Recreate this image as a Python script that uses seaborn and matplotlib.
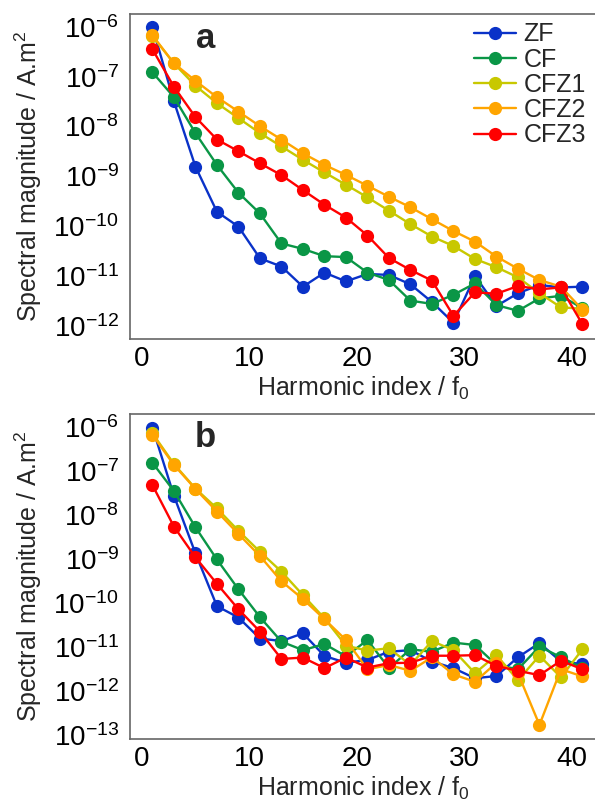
import numpy as np
import pandas as pd
import matplotlib
matplotlib.use("Agg")
import matplotlib.pyplot as plt
from matplotlib.lines import Line2D
from matplotlib.ticker import FixedLocator, MultipleLocator, LogFormatterSciNotation, NullFormatter
import seaborn as sns

harmonics = [1, 3, 5, 7, 9, 11, 13, 15, 17, 19, 21, 23, 25, 27, 29, 31, 33, 35, 37, 39, 41]
series_names = ["ZF", "CF", "CFZ1", "CFZ2", "CFZ3"]
colors = ["#0a32c8", "#0a9646", "#c8c800", "#ffa500", "#ff0000"]

# Panel a
a_ZF = [1.0e-6, 3.2e-8, 1.57e-9, 1.95e-10, 9.8e-11, 2.26e-11, 1.55e-11, 6.1e-12, 1.17e-11, 7.8e-12,
        1.1e-11, 1.05e-11, 6.8e-12, 3.0e-12, 1.15e-12, 1.0e-11, 2.5e-12, 4.5e-12, 6.6e-12, 5.9e-12, 6.1e-12]
a_CF = [1.23e-7, 3.9e-8, 7.4e-9, 1.7e-9, 4.7e-10, 1.8e-10, 4.5e-11, 3.5e-11, 2.5e-11, 2.4e-11,
        1.17e-11, 8.3e-12, 3.2e-12, 2.75e-12, 4.2e-12, 7.1e-12, 2.6e-12, 2.0e-12, 3.55e-12, 4.0e-12, 2.25e-12]
a_CFZ1 = [6.6e-7, 1.86e-7, 6.6e-8, 2.95e-8, 1.48e-8, 7.4e-9, 4.0e-9, 2.15e-9, 1.2e-9, 6.8e-10,
          3.8e-10, 2.05e-10, 1.1e-10, 6.2e-11, 4.0e-11, 2.2e-11, 1.5e-11, 9.4e-12, 4.5e-12, 2.35e-12, 2.2e-12]
a_CFZ2 = [6.8e-7, 1.86e-7, 8.3e-8, 3.9e-8, 2.0e-8, 1.02e-8, 5.5e-9, 2.9e-9, 1.7e-9, 1.07e-9,
          6.5e-10, 3.9e-10, 2.4e-10, 1.38e-10, 8.0e-11, 4.9e-11, 2.45e-11, 1.4e-11, 8.3e-12, 6.1e-12, 2.1e-12]
a_CFZ3 = [3.57e-7, 6.3e-8, 1.55e-8, 5.5e-9, 3.2e-9, 1.83e-9, 1.06e-9, 5.3e-10, 2.7e-10, 1.49e-10,
          6.5e-11, 2.3e-11, 1.32e-11, 8.1e-12, 1.58e-12, 4.7e-12, 4.4e-12, 6.3e-12, 5.4e-12, 5.9e-12, 1.07e-12]

# Panel b
b_ZF = [1.0e-6, 2.8e-8, 1.38e-9, 8.7e-11, 4.8e-11, 1.6e-11, 1.4e-11, 2.1e-11, 6.4e-12, 4.5e-12,
        5.2e-12, 8.0e-12, 8.7e-12, 4.8e-12, 3.4e-12, 2.0e-12, 2.25e-12, 6.0e-12, 1.26e-11, 4.8e-12, 4.2e-12]
b_CF = [1.58e-7, 3.6e-8, 5.4e-9, 1.0e-9, 2.1e-10, 4.9e-11, 1.36e-11, 8.7e-12, 1.2e-11, 6.3e-12,
        1.48e-11, 3.4e-12, 9.1e-12, 8.0e-12, 1.29e-11, 1.14e-11, 4.0e-12, 3.2e-12, 1.05e-11, 6.0e-12, 3.4e-12]
b_CFZ1 = [7.4e-7, 1.48e-7, 4.1e-8, 1.45e-8, 4.5e-9, 1.5e-9, 5.3e-10, 1.55e-10, 4.6e-11, 1.1e-11,
          8.5e-12, 9.6e-12, 4.0e-12, 1.4e-11, 8.7e-12, 2.6e-12, 6.7e-12, 1.8e-12, 6.5e-12, 2.1e-12, 9.1e-12]
b_CFZ2 = [6.8e-7, 1.41e-7, 4.0e-8, 1.23e-8, 3.8e-9, 1.2e-9, 3.2e-10, 1.26e-10, 4.4e-11, 1.48e-11,
          3.2e-12, 4.0e-12, 2.95e-12, 6.0e-12, 2.45e-12, 1.66e-12, 4.5e-12, 2.6e-12, 1.74e-13, 3.2e-12, 2.2e-12]
b_CFZ3 = [4.9e-8, 5.6e-9, 1.12e-9, 2.8e-10, 7.4e-11, 2.3e-11, 5.5e-12, 5.9e-12, 3.4e-12, 5.9e-12,
          3.5e-12, 4.4e-12, 4.5e-12, 6.5e-12, 6.5e-12, 6.7e-12, 3.8e-12, 2.95e-12, 2.35e-12, 5.0e-12, 3.2e-12]

panel_a = [a_ZF, a_CF, a_CFZ1, a_CFZ2, a_CFZ3]
panel_b = [b_ZF, b_CF, b_CFZ1, b_CFZ2, b_CFZ3]

x_major_ticks = [0, 10, 20, 30, 40]
decades_a = [-12, -11, -10, -9, -8, -7, -6]
decades_b = [-13, -12, -11, -10, -9, -8, -7, -6]


def long_df(series):
    rows = []
    for name, vals in zip(series_names, series):
        for h, v in zip(harmonics, vals):
            rows.append({"h": h, "v": v, "s": name})
    return pd.DataFrame(rows)


sns.set_style("white")
FONT = "Liberation Sans"
plt.rcParams["font.family"] = [FONT, "DejaVu Sans"]
plt.rcParams["mathtext.fontset"] = "custom"
plt.rcParams["mathtext.rm"] = FONT
plt.rcParams["mathtext.it"] = FONT
plt.rcParams["mathtext.bf"] = FONT + ":bold"
plt.rcParams["mathtext.default"] = "regular"

W, H = 595, 805
fig = plt.figure(figsize=(W / 100, H / 100), dpi=100)
palette = dict(zip(series_names, colors))

spine_col = "#666666"


def make_axes(top_px, bot_px):
    left, right = 130, 596
    return fig.add_axes([left / W, 1 - bot_px / H, (right - left) / W, (bot_px - top_px) / H])


ax_a = make_axes(14, 339)
ax_b = make_axes(414, 739)

configs = [
    (ax_a, panel_a, decades_a, (10 ** -12.265, 10 ** -5.739), "a", (206, 38)),
    (ax_b, panel_b, decades_b, (10 ** -13.08, 10 ** -5.693), "b", (205, 437)),
]

for ax, series, decades, ylim, letter, lpos in configs:
    df = long_df(series)
    sns.lineplot(data=df, x="h", y="v", hue="s", hue_order=series_names, palette=palette,
                 marker="o", markersize=9.5, markeredgewidth=0, linewidth=1.7,
                 errorbar=None, legend=False, ax=ax)
    ax.set_yscale("log")
    ax.set_xlim(-1.088, 42.26)
    ax.set_ylim(*ylim)
    ax.xaxis.set_major_locator(FixedLocator(x_major_ticks))
    ax.xaxis.set_minor_locator(FixedLocator([m for m in range(2, 42, 2) if m % 10]))
    majors = [10.0 ** d for d in decades]
    minors = [k * 10.0 ** d for d in [decades[0] - 1] + decades for k in range(2, 10)
              if ylim[0] <= k * 10.0 ** d <= ylim[1]]
    ax.yaxis.set_major_locator(FixedLocator(majors))
    ax.yaxis.set_minor_locator(FixedLocator(minors))
    ax.yaxis.set_major_formatter(LogFormatterSciNotation())
    ax.yaxis.set_minor_formatter(NullFormatter())
    ax.tick_params(axis="both", which="both", direction="in", colors=spine_col,
                   labelcolor="black", labelsize=20)
    ax.tick_params(axis="both", which="major", length=6, width=0.9)
    ax.tick_params(axis="both", which="minor", length=3.5, width=0.7)
    ax.tick_params(axis="y", which="major", pad=8)
    ax.tick_params(axis="x", which="major", pad=5)
    for sp in ax.spines.values():
        sp.set_color(spine_col)
        sp.set_linewidth(1.2)
    ax.set_xlabel("Harmonic index / f$_0$", fontsize=18, labelpad=2)
    ax.set_ylabel("Spectral magnitude / A.m$^2$", fontsize=18)
    ax.yaxis.set_label_coords(-0.185, 0.5)
    ax.text(lpos[0] / W, 1 - lpos[1] / H, letter, transform=fig.transFigure,
            fontsize=25, fontweight="bold", ha="center", va="center")

handles = [Line2D([], [], color=c, marker="o", markersize=9.5, markeredgewidth=0, linewidth=1.7)
           for c in colors]
ax_a.legend(handles, series_names, loc="upper right", bbox_to_anchor=(1.0, 1.005),
            frameon=False, fontsize=18, handlelength=1.7, handletextpad=0.3,
            labelspacing=0.05, borderaxespad=0.2, borderpad=0.2)

fig.savefig("out.png", dpi=100)
